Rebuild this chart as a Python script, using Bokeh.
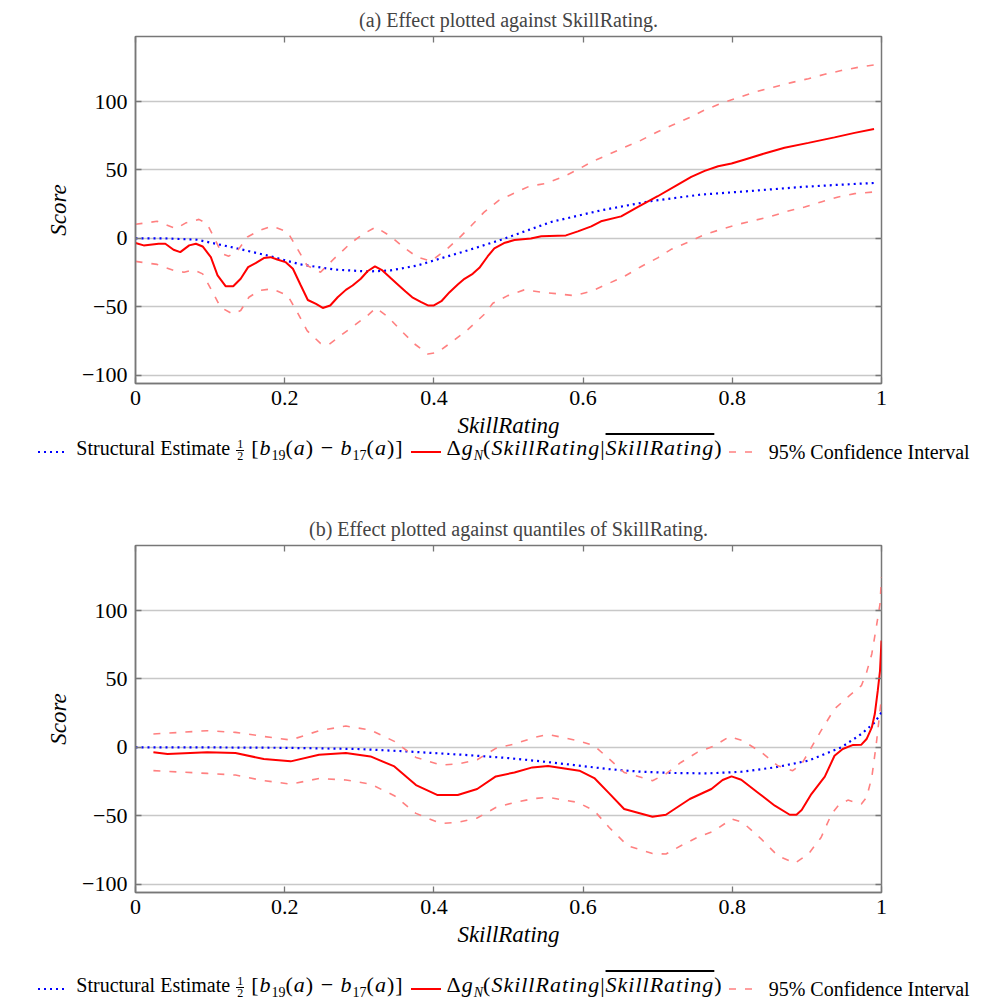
from bokeh.plotting import figure
from bokeh.models import Range1d, FixedTicker, LinearAxis, Div
from bokeh.layouts import column
from bokeh.embed import file_html
from bokeh.resources import INLINE

# ---------------- data: panel (a) ----------------
a_red_x = [0.000, 0.011, 0.031, 0.040, 0.051, 0.060, 0.072, 0.081, 0.090, 0.101, 0.110, 0.121, 0.131,
           0.141, 0.151, 0.161, 0.172, 0.181, 0.190, 0.201, 0.211, 0.221, 0.231, 0.242, 0.251, 0.261,
           0.271, 0.282, 0.291, 0.302, 0.311, 0.321, 0.331, 0.342, 0.353, 0.362, 0.371, 0.383, 0.392,
           0.400, 0.410, 0.421, 0.432, 0.441, 0.452, 0.461, 0.472, 0.481, 0.494, 0.508, 0.530, 0.544,
           0.577, 0.593, 0.611, 0.624, 0.651, 0.673, 0.700, 0.727, 0.745, 0.763, 0.781, 0.799, 0.817,
           0.843, 0.870, 0.902, 0.937, 0.964, 0.990]
a_red_y = [-3.4, -5.1, -3.9, -3.9, -8.3, -10.0, -5.1, -3.9, -5.9, -13.7, -27.0, -35.0, -35.0,
           -29.5, -21.0, -18.0, -14.4, -13.7, -15.4, -17.3, -22.2, -33.7, -45.0, -47.9, -50.8, -49.0,
           -43.0, -37.6, -34.4, -29.5, -24.0, -20.5, -23.4, -29.0, -34.4, -38.8, -43.0, -46.6, -49.0,
           -49.0, -45.9, -39.3, -33.7, -29.5, -25.9, -21.5, -13.2, -7.2, -3.4, -1.2, 0.0, 1.5,
           2.2, 5.1, 8.8, 12.5, 16.1, 22.9, 30.8, 39.3, 44.9, 49.3, 52.7, 54.7, 57.7,
           62.0, 66.2, 69.8, 73.8, 77.1, 79.9]

a_blue_x = [0.000, 0.040, 0.083, 0.132, 0.177, 0.221, 0.266, 0.311, 0.342, 0.378, 0.400, 0.445,
            0.490, 0.557, 0.624, 0.691, 0.758, 0.826, 0.893, 0.937, 0.990]
a_blue_y = [0.0, 0.0, -1.0, -6.8, -12.5, -19.0, -22.7, -24.2, -23.4, -19.8, -16.1, -8.8,
            -1.0, 12.0, 20.5, 27.3, 32.0, 34.7, 37.6, 39.0, 40.5]

a_up_x = [0.000, 0.029, 0.054, 0.067, 0.085, 0.096, 0.105, 0.116, 0.125, 0.137, 0.150, 0.166, 0.183,
          0.204, 0.217, 0.230, 0.248, 0.266, 0.289, 0.306, 0.322, 0.342, 0.360, 0.378, 0.396, 0.418,
          0.436, 0.450, 0.467, 0.487, 0.508, 0.528, 0.548, 0.573, 0.593, 0.613, 0.635, 0.655, 0.678,
          0.700, 0.720, 0.743, 0.763, 0.785, 0.808, 0.832, 0.855, 0.879, 0.902, 0.924, 0.946, 0.969,
          0.990]
a_up_y = [10.3, 12.5, 7.1, 11.2, 13.9, 10.7, 1.0, -11.2, -13.0, -8.8, 1.0, 5.9, 9.0,
          4.6, -7.6, -19.8, -24.7, -14.9, -3.2, 3.4, 8.3, 1.5, -6.8, -13.7, -16.6, -7.6,
          1.5, 9.2, 19.0, 27.8, 33.2, 38.1, 40.0, 44.9, 50.3, 56.4, 61.5, 66.4, 71.8,
          77.9, 82.8, 88.4, 93.8, 98.7, 102.8, 107.2, 110.4, 113.8, 116.7, 119.9, 122.6, 125.0,
          126.7]

a_lo_x = [0.000, 0.029, 0.051, 0.065, 0.078, 0.090, 0.101, 0.114, 0.130, 0.141, 0.152, 0.166, 0.183,
          0.204, 0.217, 0.230, 0.248, 0.259, 0.275, 0.293, 0.311, 0.322, 0.338, 0.356, 0.374, 0.392,
          0.405, 0.423, 0.445, 0.468, 0.479, 0.499, 0.521, 0.544, 0.566, 0.588, 0.611, 0.633, 0.655,
          0.678, 0.700, 0.718, 0.741, 0.763, 0.785, 0.808, 0.830, 0.852, 0.875, 0.897, 0.919, 0.942,
          0.964, 0.990]
a_lo_y = [-16.8, -19.0, -23.4, -24.7, -22.9, -25.9, -36.8, -50.3, -55.2, -52.7, -43.0, -38.1, -36.8,
          -41.8, -54.0, -67.4, -76.7, -77.7, -71.0, -63.7, -56.4, -50.8, -57.1, -67.4, -77.1, -84.5,
          -83.3, -76.0, -66.9, -55.2, -47.4, -41.8, -37.6, -39.3, -40.5, -41.8, -38.6, -33.2, -27.8,
          -20.5, -14.2, -8.0, -2.7, 2.9, 6.6, 10.3, 13.2, 16.1, 20.0, 22.9, 26.6, 30.3,
          32.7, 33.9]

# ---------------- data: panel (b) ----------------
b_red_x = [0.024, 0.043, 0.096, 0.134, 0.172, 0.208, 0.246, 0.282, 0.315, 0.347, 0.376, 0.405, 0.432,
           0.458, 0.483, 0.508, 0.532, 0.553, 0.595, 0.615, 0.635, 0.655, 0.693, 0.711, 0.743, 0.772,
           0.787, 0.799, 0.812, 0.834, 0.857, 0.877, 0.886, 0.893, 0.906, 0.924, 0.937, 0.948, 0.962,
           0.973, 0.980, 0.987, 0.991, 0.995, 0.998, 1.000]
b_red_y = [-3.6, -4.9, -3.6, -4.1, -8.5, -10.2, -5.3, -4.1, -6.6, -13.9, -27.5, -34.8, -34.8,
           -30.4, -21.2, -18.3, -14.6, -13.6, -17.0, -22.4, -33.6, -45.0, -50.7, -49.2, -37.7, -30.4,
           -23.8, -21.2, -23.6, -32.9, -42.6, -49.2, -49.2, -45.8, -34.1, -21.4, -6.1, -1.2, 1.8,
           2.0, 6.1, 14.6, 24.4, 41.4, 56.0, 78.0]

b_blue_x = [0.000, 0.100, 0.200, 0.300, 0.356, 0.445, 0.500, 0.544, 0.588, 0.633, 0.678, 0.723,
            0.767, 0.812, 0.857, 0.902, 0.946, 0.973, 0.991, 1.000]
b_blue_y = [0.0, 0.0, -0.3, -1.2, -2.7, -5.6, -7.8, -10.2, -12.9, -15.8, -17.8, -18.7,
            -19.0, -17.8, -14.6, -9.7, 0.0, 9.8, 18.3, 25.6]

b_up_x = [0.024, 0.096, 0.134, 0.172, 0.208, 0.246, 0.282, 0.315, 0.347, 0.376, 0.409, 0.432, 0.458,
          0.483, 0.508, 0.535, 0.553, 0.593, 0.615, 0.635, 0.655, 0.693, 0.711, 0.731, 0.753, 0.776,
          0.796, 0.814, 0.839, 0.861, 0.881, 0.893, 0.906, 0.919, 0.937, 0.957, 0.973, 0.980, 0.987,
          0.993, 0.998, 1.000]
b_up_y = [9.8, 12.2, 11.0, 8.0, 5.4, 12.2, 15.6, 12.7, 4.4, -7.3, -12.9, -12.1, -9.0,
          -0.7, 2.5, 7.3, 9.5, 4.9, 1.2, -8.5, -18.3, -24.3, -19.4, -11.0, -3.6, 1.2,
          7.8, 4.9, -3.6, -13.4, -17.0, -12.1, 0.0, 12.2, 28.1, 37.8, 45.1, 54.8, 68.3,
          87.7, 104.8, 124.3]

b_lo_x = [0.024, 0.096, 0.134, 0.172, 0.208, 0.246, 0.282, 0.315, 0.347, 0.376, 0.409, 0.432, 0.458,
          0.483, 0.508, 0.535, 0.553, 0.593, 0.615, 0.635, 0.660, 0.693, 0.711, 0.731, 0.753, 0.776,
          0.799, 0.814, 0.839, 0.861, 0.884, 0.902, 0.919, 0.933, 0.942, 0.955, 0.973, 0.980, 0.987,
          0.993, 0.998, 1.000]
b_lo_y = [-17.0, -19.0, -20.2, -24.3, -26.8, -22.7, -23.8, -26.8, -35.3, -48.2, -55.6, -54.8, -51.6,
          -43.9, -40.2, -37.3, -36.5, -40.2, -46.3, -58.5, -71.9, -77.5, -77.9, -71.9, -65.8, -60.9,
          -52.3, -54.8, -67.0, -79.2, -84.5, -77.9, -65.8, -48.7, -42.6, -38.5, -41.4, -36.5, -21.9,
          2.5, 26.8, 36.5]

# ---------------- texts / ticks ----------------
titles = ["(a) Effect plotted against SkillRating.",
          "(b) Effect plotted against quantiles of SkillRating."]
x_ticks = [0, 0.2, 0.4, 0.6, 0.8, 1]
x_tick_labels = ["0", "0.2", "0.4", "0.6", "0.8", "1"]
y_ticks = [-100, -50, 0, 50, 100]
y_tick_labels = ["\u2212100", "\u221250", "0", "50", "100"]
x_label = "SkillRating"
y_label = "Score"

SERIF = "Liberation Serif"
AXIS_COL = "#777777"
BLUE = dict(line_color="#0000ff", line_width=2.2, line_dash="2 4")
CI = dict(line_color="#ff8080", line_width=1.6, line_dash="7 9")
RED = dict(line_color="#ff0000", line_width=2)


def panel(title, rx, ry, bx, by, ux, uy, lx, ly):
    p = figure(width=1000, height=445, output_backend="svg", toolbar_location=None,
               x_range=Range1d(0, 1), y_range=Range1d(-106, 147.5),
               min_border_left=135, min_border_right=119, min_border_top=36,
               min_border_bottom=62, title=title, margin=0)
    p.title.text_font = SERIF
    p.title.text_font_style = "normal"
    p.title.text_font_size = "20px"
    p.title.align = "center"
    p.title.standoff = 12
    p.outline_line_color = AXIS_COL
    p.outline_line_width = 1.5

    p.xgrid.visible = False
    p.ygrid.ticker = FixedTicker(ticks=y_ticks)
    p.ygrid.grid_line_color = "#c8c8c8"
    p.ygrid.grid_line_width = 1.3

    xa = p.xaxis[0]
    xa.ticker = FixedTicker(ticks=x_ticks)
    xa.major_label_overrides = {t: l for t, l in zip(x_ticks, x_tick_labels)}
    ya = p.yaxis[0]
    ya.ticker = FixedTicker(ticks=y_ticks)
    ya.major_label_overrides = {t: l for t, l in zip(y_ticks, y_tick_labels)}
    for ax in (xa, ya):
        ax.axis_line_color = AXIS_COL
        ax.axis_line_width = 1.5
        ax.major_tick_line_color = AXIS_COL
        ax.major_tick_line_width = 1.3
        ax.major_tick_in = 6
        ax.major_tick_out = 0
        ax.minor_tick_line_color = None
        ax.major_label_text_font = SERIF
        ax.major_label_text_font_size = "22px"
        ax.major_label_text_color = "black"
        ax.axis_label_text_font = SERIF
        ax.axis_label_text_font_style = "italic"
        ax.axis_label_text_font_size = "23px"
        ax.axis_label_text_color = "black"
    xa.axis_label = x_label
    ya.axis_label = y_label
    xa.major_label_standoff = 7
    ya.major_label_standoff = 8
    xa.axis_label_standoff = 5
    ya.axis_label_standoff = 8

    top = LinearAxis(ticker=FixedTicker(ticks=x_ticks), axis_line_color=None,
                     major_tick_line_color=AXIS_COL, major_tick_line_width=1.3,
                     major_tick_in=6, major_tick_out=0, minor_tick_line_color=None,
                     major_label_overrides={t: "" for t in x_ticks}, major_label_standoff=0)
    right = LinearAxis(ticker=FixedTicker(ticks=y_ticks), axis_line_color=None,
                       major_tick_line_color=AXIS_COL, major_tick_line_width=1.3,
                       major_tick_in=6, major_tick_out=0, minor_tick_line_color=None,
                       major_label_overrides={t: "" for t in y_ticks}, major_label_standoff=0)
    p.add_layout(top, "above")
    p.add_layout(right, "right")

    p.line(bx, by, **BLUE)
    p.line(ux, uy, **CI)
    p.line(lx, ly, **CI)
    p.line(rx, ry, **RED)
    return p


def sample(color, width, dash):
    d = f' stroke-dasharray="{dash}"' if dash else ""
    return (f'<svg width="30" height="12" style="flex:none">'
            f'<line x1="0" y1="6" x2="30" y2="6" stroke="{color}" stroke-width="{width}"{d}/></svg>')


MATH = 'font-size:22px;letter-spacing:1px'
SUB = '<sub style="font-size:14px;letter-spacing:0">'
FRAC = ('<span style="display:inline-flex;flex-direction:column;align-items:center;'
        'font-size:12px;line-height:11px;margin:0 7px 0 6px;vertical-align:middle;letter-spacing:0">'
        '<span>1</span><span style="border-top:1px solid #000;padding:0 1px">2</span></span>')

LEGEND_HTML = (
    '<div style="width:1008px;display:flex;justify-content:center;align-items:center;'
    f'font-family:\'{SERIF}\';font-size:20px;color:#000;white-space:nowrap;line-height:24px;'
    'position:relative;top:{pad}px">'
    + sample("#0000ff", 2, "2 4")
    + '<span style="margin:0 7px 0 8px">Structural Estimate' + FRAC
    + f'<span style="{MATH}">[<i>b</i>{SUB}19</sub>(<i>a</i>) \u2212 '
      f'<i>b</i>{SUB}17</sub>(<i>a</i>)]</span></span>'
    + sample("#ff0000", 2, None)
    + f'<span style="margin:0 6px 0 6px;{MATH}">\u0394<i>g</i>{SUB}<i>N</i></sub>'
      '(<i>SkillRating</i>|<span style="text-decoration:overline"><i>SkillRating</i></span>)</span>'
    + sample("#ff8080", 1.6, "7 9")
    + '<span style="margin:0 0 0 10px">95% Confidence Interval</span>'
    + '</div>'
)

p1 = panel(titles[0], a_red_x, a_red_y, a_blue_x, a_blue_y, a_up_x, a_up_y, a_lo_x, a_lo_y)
l1 = Div(text=LEGEND_HTML.replace("{pad}", "-9"), width=1008, height=64, margin=0)
p2 = panel(titles[1], b_red_x, b_red_y, b_blue_x, b_blue_y, b_up_x, b_up_y, b_lo_x, b_lo_y)
l2 = Div(text=LEGEND_HTML.replace("{pad}", "19"), width=1008, height=48, margin=0)

layout = column(p1, l1, p2, l2, spacing=0)
open("out.html", "w").write(file_html(layout, INLINE))
